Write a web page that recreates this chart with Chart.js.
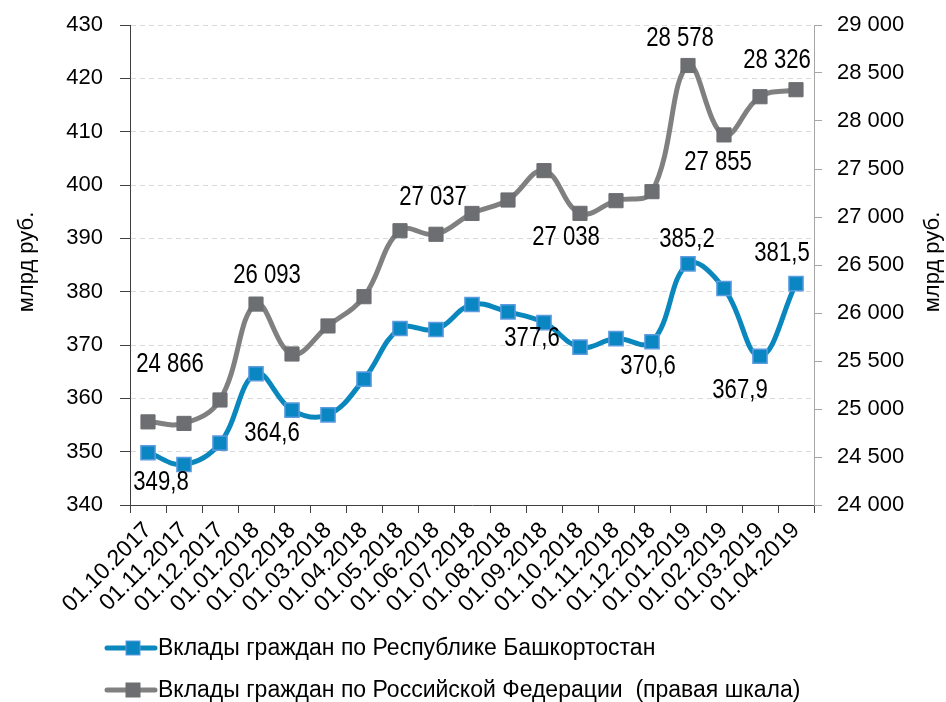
<!DOCTYPE html>
<html>
<head>
<meta charset="utf-8">
<script src="https://cdn.jsdelivr.net/npm/chart.js@4.4.1/dist/chart.umd.min.js"></script>
<style>
  html, body { margin: 0; padding: 0; background: #fff; }
  #wrap { width: 946px; height: 702px; }
</style>
</head>
<body>
<div id="wrap"><canvas id="chart" width="946" height="702"></canvas></div>
<script>
const dates = [
    '01.10.2017', '01.11.2017', '01.12.2017', '01.01.2018', '01.02.2018',
    '01.03.2018', '01.04.2018', '01.05.2018', '01.06.2018', '01.07.2018',
    '01.08.2018', '01.09.2018', '01.10.2018', '01.11.2018', '01.12.2018',
    '01.01.2019', '01.02.2019', '01.03.2019', '01.04.2019'
]
// млрд руб., левая шкала
const bashkortostan = [349.8, 347.6, 351.6, 364.6, 357.8, 356.9, 363.6, 373.1, 372.9, 377.6,
    376.2, 374.2, 369.6, 371.2, 370.6, 385.2, 380.6, 367.9, 381.5]
// млрд руб., правая шкала
const russia = [24866, 24850, 25094, 26093, 25573, 25865, 26170, 26857, 26820, 27037,
    27177, 27483, 27038, 27170, 27264, 28578, 27855, 28253, 28326]

const series_names = [
    'Вклады граждан по Республике Башкортостан',
    'Вклады граждан по Российской Федерации  (правая шкала)'
]
const axis_title = 'млрд руб.'

// which points carry a value label, and where the label sits relative to the point
const bash_labels = [
    { i: 0, dx: 13, dy: 30 }, { i: 3, dx: 16, dy: 60 }, { i: 9, dx: 60, dy: 34 },
    { i: 14, dx: -4, dy: 25 }, { i: 15, dx: -1, dy: -24 }, { i: 17, dx: -20, dy: 34 },
    { i: 18, dx: -14, dy: -30 }
]
const rus_labels = [
    { i: 0, dx: 22, dy: -57 }, { i: 3, dx: 11, dy: -29 }, { i: 9, dx: -39, dy: -16 },
    { i: 12, dx: -14, dy: 24 }, { i: 15, dx: -8, dy: -27 }, { i: 16, dx: -6, dy: 28 },
    { i: 18, dx: -19, dy: -29 }
]

const BLUE = '#0a88be'
const BLUE_POINT = '#0a86c2'
const BLUE_EDGE = '#5b9be0'
const GREY = '#808080'
const GREY_POINT = '#6c6e71'
const FONT = '"Liberation Sans", Arial, sans-serif'

const fmt_bash = v => v.toFixed(1).replace('.', ',')
const fmt_rus = v => Math.round(v).toString().replace(/\B(?=(\d{3})+(?!\d))/g, ' ')

// the source uses a condensed face, so squeeze the text horizontally
function narrow_text(ctx, text, x, y, squeeze) {
    ctx.save()
    ctx.translate(x, y)
    ctx.scale(squeeze, 1)
    ctx.fillText(text, 0, 0)
    ctx.restore()
}

const overlay = {
    id: 'overlay',
    afterDatasetsDraw(chart) {
        const { ctx } = chart
        ctx.save()
        ctx.fillStyle = '#000'
        ctx.font = '27px ' + FONT
        ctx.textAlign = 'center'
        ctx.textBaseline = 'middle'
        const put = (meta, list, values, fmt) => {
            list.forEach(l => {
                const p = meta.data[l.i]
                narrow_text(ctx, fmt(values[l.i]), p.x + l.dx, p.y + l.dy, 0.82)
            })
        }
        put(chart.getDatasetMeta(0), bash_labels, bashkortostan, fmt_bash)
        put(chart.getDatasetMeta(1), rus_labels, russia, fmt_rus)
        ctx.restore()
    },
    afterDraw(chart) {
        const { ctx } = chart
        ctx.save()
        ctx.fillStyle = '#000'
        ctx.font = '22px ' + FONT
        ctx.textAlign = 'center'
        ctx.textBaseline = 'middle'
        ;[27, 933].forEach(x => {
            ctx.save()
            ctx.translate(x, 262)
            ctx.rotate(-Math.PI / 2)
            narrow_text(ctx, axis_title, 0, 0, 1)
            ctx.restore()
        })

        // legend
        const rows = [
            { y: 648, line: BLUE, fill: BLUE_POINT, edge: BLUE_EDGE },
            { y: 690, line: GREY, fill: GREY_POINT, edge: GREY_POINT }
        ]
        ctx.font = '23px ' + FONT
        ctx.textAlign = 'left'
        rows.forEach((r, k) => {
            ctx.strokeStyle = r.line
            ctx.lineWidth = 5
            ctx.lineCap = 'round'
            ctx.beginPath()
            ctx.moveTo(107, r.y)
            ctx.lineTo(155, r.y)
            ctx.stroke()
            ctx.fillStyle = r.fill
            ctx.fillRect(126, r.y - 7, 14, 14)
            ctx.strokeStyle = r.edge
            ctx.lineWidth = 1
            ctx.strokeRect(126, r.y - 7, 14, 14)
            ctx.fillStyle = '#000'
            ctx.fillText(series_names[k], 158, r.y + 1)
        })
        ctx.restore()
    }
}

// fixed box sizes so the plot area lands where it is in the source
const fit_y = width => s => {
    s.width = width
    s.paddingTop = 0
    s.paddingBottom = 0
}

new Chart(document.getElementById('chart'), {
    type: 'line',
    data: {
        labels: dates,
        datasets: [
            {
                label: series_names[0],
                data: bashkortostan,
                yAxisID: 'y',
                borderColor: BLUE,
                borderWidth: 5,
                tension: 0.4,
                pointStyle: 'rect',
                pointRadius: 10,
                pointBackgroundColor: BLUE_POINT,
                pointBorderColor: BLUE_EDGE,
                pointBorderWidth: 1.5
            },
            {
                label: series_names[1],
                data: russia,
                yAxisID: 'y2',
                borderColor: GREY,
                borderWidth: 5,
                tension: 0.4,
                pointStyle: 'rect',
                pointRadius: 10,
                pointBackgroundColor: GREY_POINT,
                pointBorderColor: GREY_POINT,
                pointBorderWidth: 1
            }
        ]
    },
    options: {
        responsive: false,
        animation: false,
        layout: { padding: { top: 25, left: 0, right: 0, bottom: 0 } },
        plugins: {
            legend: { display: false },
            tooltip: { enabled: false }
        },
        scales: {
            x: {
                offset: true,
                grid: {
                    offset: true,
                    drawOnChartArea: false,
                    tickLength: 8,
                    tickColor: '#404040'
                },
                border: { color: '#404040', width: 1 },
                ticks: {
                    minRotation: 45,
                    maxRotation: 45,
                    autoSkip: false,
                    color: '#000',
                    font: { family: FONT, size: 23 },
                    padding: 4
                },
                afterFit: s => { s.height = 197 }
            },
            y: {
                position: 'left',
                min: 340,
                max: 430,
                ticks: {
                    stepSize: 10,
                    color: '#000',
                    font: { family: FONT, size: 22 },
                    padding: 17
                },
                grid: {
                    color: '#d9d9d9',
                    tickColor: '#404040',
                    tickLength: 10
                },
                border: { color: '#404040', width: 1, dash: [5, 4] },
                afterFit: fit_y(130)
            },
            y2: {
                position: 'right',
                min: 24000,
                max: 29000,
                ticks: {
                    stepSize: 500,
                    color: '#000',
                    font: { family: FONT, size: 22 },
                    padding: 15,
                    callback: v => fmt_rus(v)
                },
                grid: {
                    drawOnChartArea: false,
                    tickColor: '#a6a6a6',
                    tickLength: 8
                },
                border: { color: '#a6a6a6', width: 1 },
                afterFit: fit_y(132)
            }
        }
    },
    plugins: [overlay]
})
</script>
</body>
</html>
